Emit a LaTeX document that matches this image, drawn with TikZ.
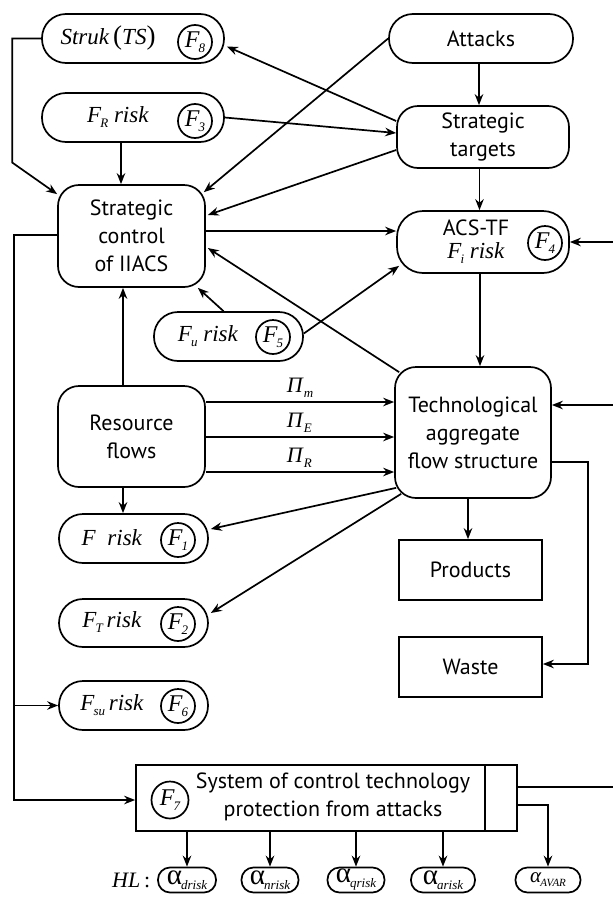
\documentclass[tikz,border=0pt]{standalone}
\usepackage{fontspec}
\setmainfont{Liberation Serif}
\setsansfont{PT Sans}
\usetikzlibrary{arrows.meta,calc}

% italic variable with a lowered subscript
\newcommand\lowsub[1]{\raisebox{-5pt}{\fontsize{13}{13}\selectfont\itshape #1}}
\newcommand\Fsub[1]{\textit{F}\kern-1pt\lowsub{#1}}
\newcommand\alphasub[1]{{\fontsize{29}{29}\selectfont α}\kern-1pt\lowsub{#1}}

\begin{document}
\begin{tikzpicture}[x=1pt,y=-1pt,
  line width=1.7pt,
  arr/.style={-{Stealth[length=11pt,width=8.5pt]}},
  sans/.style={inner sep=0pt, font=\sffamily\fontsize{22}{28}\selectfont, align=center},
  pill/.style={draw, rounded corners=24pt, inner sep=0pt},
  rbox/.style={draw, rounded corners=21pt, inner sep=0pt, font=\sffamily\fontsize{22}{28}\selectfont, align=center},
  sbox/.style={draw, inner sep=0pt, font=\sffamily\fontsize{22}{28}\selectfont, align=center},
  ftxt/.style={inner sep=0pt, font=\fontsize{23}{25}\selectfont},
  fcirc/.style={draw, circle, minimum size=34pt, inner sep=0pt, font=\fontsize{24}{24}\selectfont},
  abox/.style={draw, rounded corners=12pt, minimum height=25pt, inner sep=0pt, font=\fontsize{21}{21}\selectfont},
  lbl/.style={inner sep=0pt, font=\fontsize{22}{22}\selectfont}
]
\useasboundingbox (0,0) rectangle (613,900);

% ---- upper blocks
\node[pill, minimum width=182pt, minimum height=49pt] (struk) at (133,38.5) {};
\node[ftxt] (struktxt) at (108,38) {\textit{Struk}\,{\fontsize{27}{27}\selectfont(}\textit{TS}{\fontsize{27}{27}\selectfont)}};
\node[fcirc] (f8) at (195,42) {\Fsub{8}};

\node[pill, minimum width=182pt, minimum height=49pt] (frr) at (133,117.5) {};
\node[ftxt] (frrtxt) at (118,117) {\Fsub{R} \textit{risk}};
\node[fcirc] (f3) at (195,121) {\Fsub{3}};

\node[rbox, minimum width=147pt, minimum height=102pt] (sc) at (131.5,236) {Strategic\\control\\of IIACS};

\node[pill, sans, draw, minimum width=184pt, minimum height=49pt] (att) at (481,38.5) {Attacks};
\node[rbox, minimum width=172pt, minimum height=62pt] (st) at (483,137) {Strategic\\targets};

\node[draw, rounded corners=26pt, minimum width=172pt, minimum height=62pt] (acs) at (483,242) {};
\node[sans] (acstxt) at (476,228) {ACS-TF};
\node[ftxt] (acsrisk) at (476,253) {\Fsub{i} \textit{risk}};
\node[fcirc] (f4) at (545,243) {\Fsub{4}};

\node[pill, minimum width=149pt, minimum height=49pt] (fu) at (228.5,336.5) {};
\node[ftxt] (futxt) at (208,336) {\Fsub{u} \textit{risk}};
\node[fcirc] (f5) at (273,337) {\Fsub{5}};

\node[rbox, minimum width=147pt, minimum height=101pt] (rf) at (131.5,436.5) {Resource\\flows};
\node[rbox, minimum width=156pt, minimum height=131pt] (tech) at (473,432.5) {Technological\\aggregate\\flow structure};

% ---- risk blocks on the left
\node[pill, minimum width=149pt, minimum height=49pt] (fr) at (133.5,538.5) {};
\node[ftxt] (frtxt) at (112,538) {\textit{F}\ \ \textit{risk}};
\node[fcirc] (f1) at (178,540) {\Fsub{1}};

\node[pill, minimum width=149pt, minimum height=48pt] (ft) at (133.5,623) {};
\node[ftxt] (fttxt) at (112,622) {\Fsub{T}\,\textit{risk}};
\node[fcirc] (f2) at (178,624) {\Fsub{2}};

\node[pill, minimum width=149pt, minimum height=49pt] (fsu) at (133.5,705.5) {};
\node[ftxt] (fsutxt) at (112,705) {\Fsub{su}\,\textit{risk}};
\node[fcirc] (f6) at (178,706) {\Fsub{6}};

% ---- outputs
\node[sbox, minimum width=143pt, minimum height=60pt] (prod) at (470.5,570) {Products};
\node[sbox, minimum width=143pt, minimum height=60pt] (waste) at (470.5,667) {Waste};

% ---- protection system
\node[draw, minimum width=381pt, minimum height=66pt] (sys) at (326.5,798) {};
\draw ([xshift=-33pt]sys.north east) -- ([xshift=-33pt]sys.south east);
\node[sans] (systxt) at (333,797) {System of control technology\\protection from attacks};
\node[fcirc, minimum size=37pt] (f7) at (170,800) {\Fsub{7}};

\node[lbl, anchor=east] (hl) at (151,880) {\textit{HL}\,:};
\node[abox, minimum width=58pt] (a1) at (187,880) {\alphasub{drisk}};
\node[abox, minimum width=57pt] (a2) at (270,880) {\alphasub{nrisk}};
\node[abox, minimum width=57pt] (a3) at (356,880) {\alphasub{qrisk}};
\node[abox, minimum width=64pt] (a4) at (443,880) {\alphasub{arisk}};
\node[abox, minimum width=65pt] (a5) at (548,880) {{\fontsize{21}{21}\selectfont\textit{α}}\kern-1pt\raisebox{-4pt}{\fontsize{11}{11}\selectfont\itshape AVAR}};

% ---- free ends at the right margin
\coordinate (rA) at (613,242);
\coordinate (rT) at (613,405);
\coordinate (rS) at (613,787);

% ---- connectors
\draw[arr] (struk.west) -- ++(-29,0) -- ++(0,124) -- ($(sc.north west)+(0,10)$);
\draw[arr] ([xshift=-12pt]frr.south) -- ([xshift=-10.5pt]sc.north);
\draw[arr] (att.west) -- ($(sc.north east)+(-2,8)$);
\draw[arr] ($(st.west)+(0,-16)$) -- ($(struk.east)+(2,8)$);
\draw[arr] (frr.east) -- ($(st.west)+(0,-4)$);
\draw[arr] ($(st.west)+(0,13)$) -- ($(sc.east)+(2,-21)$);
\draw[arr] ([xshift=-2pt]att.south) -- ([xshift=-4pt]st.north);
\draw[arr] ([xshift=-3.5pt]st.south) -- ([xshift=-3.5pt]acs.north);
\coordinate (scA) at ([yshift=5pt]sc.east);
\draw[arr] (scA) -- (scA -| acs.west);
\draw[arr] (rA) -- (acs.east);
\draw[arr] ([yshift=3pt]fu.east) -- ($(acs.south west)+(3,-8)$);
\draw[arr] ([xshift=-5pt]fu.north) -- ($(sc.south east)+(-8,0)$);
\draw[arr] ($(tech.north west)+(5,6)$) -- ($(sc.east)+(2,12)$);
\draw[arr] ([xshift=-3pt]acs.south) -- ([xshift=7pt]tech.north);

\coordinate (p1) at ([yshift=34.5pt]rf.east);
\coordinate (p2) at ([yshift=-0.5pt]rf.east);
\coordinate (p3) at ([yshift=-35.5pt]rf.east);
\draw[arr] (p1) -- (p1 -| tech.west);
\draw[arr] (p2) -- (p2 -| tech.west);
\draw[arr] (p3) -- (p3 -| tech.west);
\node[lbl, anchor=south west] (pim) at (286,398) {\textit{Π}\lowsub{m}};
\node[lbl, anchor=south west] (pie) at (286,433) {\textit{Π}\lowsub{E}};
\node[lbl, anchor=south west] (pir) at (286,468) {\textit{Π}\lowsub{R}};

\draw[arr] (rT) -- (rT -| tech.east);
\draw[arr] ($(tech.south west)+(2,-11)$) -- ($(fr.east)+(2,-9.5)$);
\draw[arr] ($(tech.south west)+(7,-5)$) -- ($(ft.east)+(2,-10)$);
\draw[arr] ([xshift=-5pt]tech.south) -- ([xshift=-2.5pt]prod.north);
\draw[arr] ([yshift=-29.5pt]tech.east) -| ([yshift=3pt,xshift=45pt]waste.east) -- ([yshift=3pt]waste.east);

\draw[arr] ([xshift=-8.5pt]rf.north) -- ([xshift=-8.5pt]sc.south);
\draw[arr] ([xshift=-8.5pt]rf.south) -- ([xshift=-10.5pt]fr.north);

\coordinate (busend) at ([xshift=-121pt,yshift=-2pt]sys.west);
\draw[arr] ([yshift=1pt]sc.west) -| (busend) -- ([yshift=-2pt]sys.west);
\draw[arr] (fsu.west -| busend) -- (fsu.west);

\draw[arr] (a1.north |- sys.south) -- (a1.north);
\draw[arr] (a2.north |- sys.south) -- (a2.north);
\draw[arr] (a3.north |- sys.south) -- (a3.north);
\draw[arr] (a4.north |- sys.south) -- (a4.north);
\draw[arr] ([yshift=-7pt]sys.east) -| (a5.north);
\coordinate (sysR) at ([yshift=11pt]sys.east);
\draw (sysR) -- (sysR -| rS);
\end{tikzpicture}
\end{document}
